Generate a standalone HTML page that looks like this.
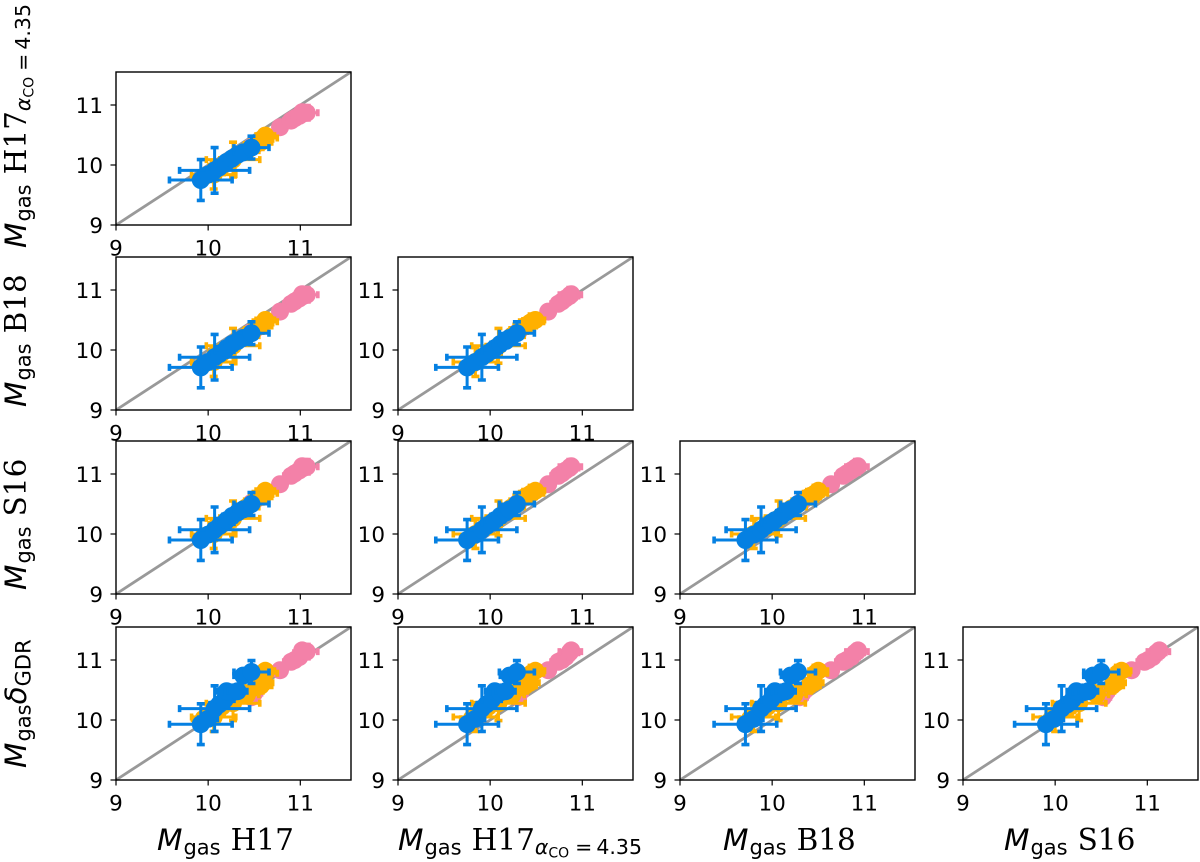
<!DOCTYPE html>
<html lang="en">
<head>
<meta charset="utf-8">
<title>Gas mass comparison corner plot</title>
<style>
html,body{margin:0;padding:0;background:#fff;width:1200px;height:862px;overflow:hidden}
svg{display:block}
text{fill:#000;font-family:"DejaVu Sans","Liberation Sans",sans-serif}
.ser{font-family:"DejaVu Serif","Liberation Serif",serif}
.it{font-style:italic}
</style>
</head>
<body>
<svg id="chart" xmlns="http://www.w3.org/2000/svg" width="1200" height="862" viewBox="0 0 1200 862">
  <g font-size="29.5">
    <text x="157" y="850"><tspan class="it">M</tspan><tspan font-size="21" dy="4.5" dx="1">gas</tspan><tspan class="ser" dy="-4.5" dx="10">H17</tspan></text>
    <text x="398" y="850"><tspan class="it">M</tspan><tspan font-size="21" dy="4.5" dx="1">gas</tspan><tspan class="ser" dy="-4.5" dx="10">H17</tspan><tspan class="it" font-size="20.5" dy="4">α</tspan><tspan font-size="14" dy="3.5">CO</tspan><tspan font-size="20.5" dy="-3.5" dx="6">=</tspan><tspan font-size="20.5" dx="4">4.35</tspan></text>
    <text x="723" y="850"><tspan class="it">M</tspan><tspan font-size="21" dy="4.5" dx="1">gas</tspan><tspan class="ser" dy="-4.5" dx="10">B18</tspan></text>
    <text x="1004" y="850"><tspan class="it">M</tspan><tspan font-size="21" dy="4.5" dx="1">gas</tspan><tspan class="ser" dy="-4.5" dx="10">S16</tspan></text>
  </g>
  <g font-size="29.5">
    <text transform="translate(26,248) rotate(-90)"><tspan class="it">M</tspan><tspan font-size="21" dy="4.5" dx="1">gas</tspan><tspan class="ser" dy="-4.5" dx="10">H17</tspan><tspan class="it" font-size="20.5" dy="4">α</tspan><tspan font-size="14" dy="3.5">CO</tspan><tspan font-size="20.5" dy="-3.5" dx="6">=</tspan><tspan font-size="20.5" dx="4">4.35</tspan></text>
    <text transform="translate(26,407) rotate(-90)"><tspan class="it">M</tspan><tspan font-size="21" dy="4.5" dx="1">gas</tspan><tspan class="ser" dy="-4.5" dx="10">B18</tspan></text>
    <text transform="translate(26,590) rotate(-90)"><tspan class="it">M</tspan><tspan font-size="21" dy="4.5" dx="1">gas</tspan><tspan class="ser" dy="-4.5" dx="10">S16</tspan></text>
    <text transform="translate(26,768) rotate(-90)"><tspan class="it">M</tspan><tspan font-size="21" dy="4.5" dx="1">gas</tspan><tspan class="it" dy="-4.5">δ</tspan><tspan font-size="21" dy="4.5">GDR</tspan></text>
  </g>
</svg>
<script>
// Tick labels
const tickLabels = [9, 10, 11];
const axisMin = [9];
const axisMax = [11.55];

// Estimator order for the panel grid: 0 H17, 1 H17 alpha, 2 B18, 3 S16, 4 GDR
const yellowH17  = [10.06, 10.27, 9.95, 10.15, 10.42, 10.40, 10.57, 10.60, 10.62, 10.62];
const yellowH17a = [9.84, 10.09, 9.80, 9.98, 10.24, 10.22, 10.38, 10.43, 10.45, 10.49];
const yellowB18  = [9.80, 10.07, 9.76, 9.95, 10.24, 10.21, 10.40, 10.45, 10.47, 10.50];
const yellowS16  = [10.00, 10.26, 9.96, 10.16, 10.45, 10.43, 10.62, 10.66, 10.68, 10.72];
const yellowGDR  = [10.05, 10.28, 10.02, 10.22, 10.42, 10.45, 10.57, 10.62, 10.78, 10.82];
const yellowErr  = [0.24, 0.29, 0.12, 0.14, 0.13, 0.10, 0.12, 0.10, 0.13, 0.10];

const pinkH17  = [10.47, 10.50, 10.78, 10.90, 10.94, 10.99, 11.03, 11.07, 11.02];
const pinkH17a = [10.30, 10.32, 10.63, 10.74, 10.78, 10.82, 10.86, 10.87, 10.88];
const pinkB18  = [10.30, 10.33, 10.64, 10.77, 10.81, 10.86, 10.90, 10.92, 10.93];
const pinkS16  = [10.52, 10.55, 10.83, 10.97, 11.01, 11.06, 11.10, 11.12, 11.13];
const pinkGDR  = [10.38, 10.45, 10.83, 10.97, 11.00, 11.05, 11.12, 11.14, 11.16];
const pinkErr  = [0.08, 0.08, 0.06, 0.08, 0.08, 0.08, 0.10, 0.12, 0.06];

const blueH17  = [9.92, 10.00, 10.07, 10.12, 10.18, 10.20, 10.26, 10.32, 10.38, 10.47];
const blueH17a = [9.75, 9.84, 9.91, 9.96, 10.02, 10.05, 10.11, 10.17, 10.21, 10.29];
const blueB18  = [9.71, 9.80, 9.88, 9.93, 9.99, 10.03, 10.10, 10.15, 10.20, 10.28];
const blueS16  = [9.90, 9.99, 10.07, 10.13, 10.19, 10.23, 10.30, 10.36, 10.41, 10.50];
const blueGDR  = [9.93, 10.02, 10.19, 10.26, 10.34, 10.48, 10.46, 10.48, 10.74, 10.80];
const blueErr  = [0.34, 0.10, 0.38, 0.10, 0.10, 0.10, 0.10, 0.10, 0.10, 0.19];

const estimatorNames = ['h17', 'h17-alpha', 'b18', 's16', 'gdr'];
const colLefts = [116, 398, 680, 963];
const rowTops = [72, 257, 441, 627];
const panelW = 235;
const panelH = 153;
const NS = 'http://www.w3.org/2000/svg';
const root = document.getElementById('chart');

const seriesList = [
  {key: 'pink',   color: '#F381A8', est: [pinkH17, pinkH17a, pinkB18, pinkS16, pinkGDR], err: pinkErr},
  {key: 'yellow', color: '#FFB000', est: [yellowH17, yellowH17a, yellowB18, yellowS16, yellowGDR], err: yellowErr},
  {key: 'blue',   color: '#0580E2', est: [blueH17, blueH17a, blueB18, blueS16, blueGDR], err: blueErr}
];

function make(tag, attrs, parent) {
  const el = document.createElementNS(NS, tag);
  for (const k in attrs) el.setAttribute(k, attrs[k]);
  parent.appendChild(el);
  return el;
}
function sx(left, v) { return left + (v - axisMin[0]) / (axisMax[0] - axisMin[0]) * panelW; }
function sy(top, v) { return top + panelH - (v - axisMin[0]) / (axisMax[0] - axisMin[0]) * panelH; }

function drawPanel(r, c) {
  const left = colLefts[c], top = rowTops[r];
  const xEst = c, yEst = r + 1;
  const g = make('g', {}, root);
  
  

  const x0 = sx(left, axisMin[0]), x1 = sx(left, axisMax[0]);
  const y0 = sy(top, axisMin[0]), y1 = sy(top, axisMax[0]);
  const identity = make('line', {x1: x0, y1: y0, x2: x1, y2: y1, stroke: '#999', 'stroke-width': 2.8}, g);
  
  

  seriesList.forEach(function (s) {
    const sg = make('g', {}, g);
    
    
    s.est[xEst].forEach(function (xv, i) {
      const yv = s.est[yEst][i], e = s.err[i];
      const px = sx(left, xv), py = sy(top, yv);
      const xl = sx(left, xv - e), xr = sx(left, xv + e);
      const yb = sy(top, yv - e), yt = sy(top, yv + e);
      const d = 'M' + xl + ' ' + py + 'H' + xr + 'M' + px + ' ' + yb + 'V' + yt;
      const caps = 'M' + xl + ' ' + (py - 3.5) + 'V' + (py + 3.5) + 'M' + xr + ' ' + (py - 3.5) + 'V' + (py + 3.5) +
                   'M' + (px - 4) + ' ' + yb + 'H' + (px + 4) + 'M' + (px - 4) + ' ' + yt + 'H' + (px + 4);
      const bars = make('path', {d: d, stroke: s.color, 'stroke-width': 3, fill: 'none'}, sg);
      
      
      const capMarks = make('path', {d: caps, stroke: s.color, 'stroke-width': 3.6, fill: 'none'}, sg);
      
      
      const pt = make('circle', {cx: px, cy: py, r: 9, fill: s.color}, sg);
      
      
    });
  });

  const frame = make('rect', {x: left, y: top, width: panelW, height: panelH, fill: 'none', stroke: '#000', 'stroke-width': 1.4}, g);
  
  

  tickLabels.forEach(function (t) {
    const tx = sx(left, t), ty = sy(top, t);
    const xt = make('line', {x1: tx, y1: y0, x2: tx, y2: y0 + 5.5, stroke: '#000', 'stroke-width': 1.2}, g);
    
    
    const yt = make('line', {x1: left, y1: ty, x2: left - 5.5, y2: ty, stroke: '#000', 'stroke-width': 1.2}, g);
    
    
    const xl = make('text', {x: tx, y: y0 + 30.5, 'text-anchor': 'middle', 'font-size': 21.5}, g);
    xl.textContent = t;
    
    
    const yl = make('text', {x: left - 13, y: ty + 8, 'text-anchor': 'end', 'font-size': 21.5}, g);
    yl.textContent = t;
    
    
  });
}

for (let r = 0; r < rowTops.length; r++) {
  for (let c = 0; c <= r; c++) drawPanel(r, c);
}
</script>
</body>
</html>
